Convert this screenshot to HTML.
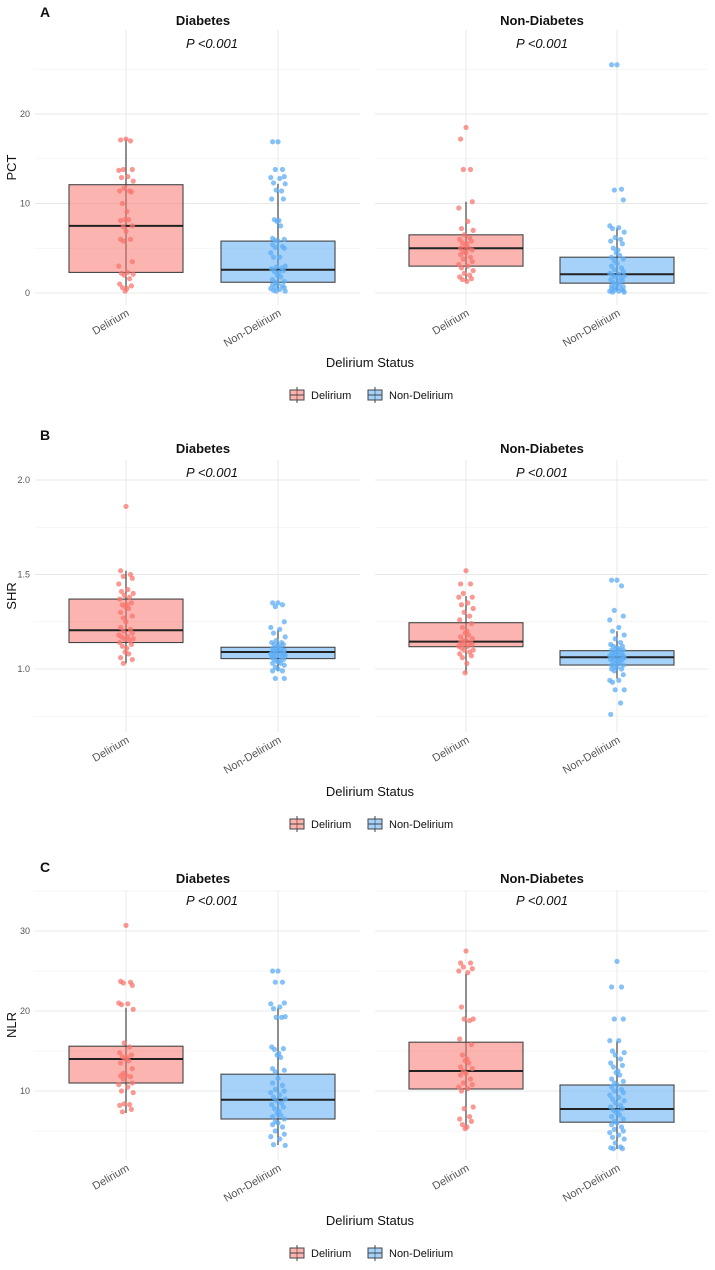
<!DOCTYPE html>
<html><head><meta charset="utf-8">
<style>
html,body{margin:0;padding:0;background:#fff;}
svg{display:block;font-family:"Liberation Sans",sans-serif;}
</style></head>
<body>
<svg id="chart" width="715" height="1270" viewBox="0 0 715 1270" xmlns="http://www.w3.org/2000/svg"></svg>
<script>
// ---------- data ----------
const categories = ["Delirium","Non-Delirium"];
const facets = ["Diabetes","Non-Diabetes"];
const panelLetters = ["A","B","C"];
const yTitles = ["PCT","SHR","NLR"];
const pLabels = ["P <0.001","P <0.001"];
const tickLabelsA = ["0","10","20"];
const tickLabelsB = ["1.0","1.5","2.0"];
const tickLabelsC = ["10","20","30"];
const ticksA = [0,10,20];
const ticksB = [1.0,1.5,2.0];
const ticksC = [10,20,30];
const minorA = [5,15,25];
const minorB = [0.75,1.25,1.75];
const minorC = [5,15,25,35];
// box stats: [lowWhisker, q1, median, q3, highWhisker] ; order: Diab-Del, Diab-NonDel, NonDiab-Del, NonDiab-NonDel
const boxA = [[0.2,2.3,7.5,12.1,17.2],[0.2,1.2,2.6,5.8,12.2],[1.3,3.0,5.0,6.5,10.2],[0.2,1.1,2.1,4.0,7.3]];
const boxB = [[1.03,1.14,1.205,1.37,1.52],[0.99,1.055,1.09,1.115,1.21],[0.98,1.118,1.145,1.245,1.386],[0.95,1.021,1.062,1.097,1.20]];
const boxC = [[7.25,11.0,14.0,15.6,20.4],[3.25,6.5,8.9,12.1,20.4],[5.4,10.25,12.5,16.1,24.7],[2.75,6.1,7.75,10.75,16.25]];
// points
const ptsA_DD = [17.2,17.1,17.0,13.8,13.8,13.7,13.0,12.9,12.5,11.7,11.4,11.4,11.3,10.0,9.1,8.2,8.2,8.1,7.5,7.4,6.9,6.0,6.0,5.8,3.5,3.0,2.3,2.2,2.1,2.0,1.6,1.0,0.8,0.6,0.5,0.2];
const ptsA_DN = [16.9,16.9,13.8,13.8,13.0,12.9,12.8,12.3,12.2,11.5,11.4,10.5,10.5,8.2,8.1,8.0,7.5,6.1,6.0,5.9,5.8,5.4,5.2,5.1,5.0,4.5,4.0,4.0,3.0,2.9,2.8,2.7,2.5,2.4,2.3,2.0,1.8,1.5,1.3,1.2,1.0,0.9,0.8,0.7,0.6,0.5,0.4,0.3,0.2,0.2];
const ptsA_ND = [18.5,17.2,13.8,13.8,10.2,9.5,8.0,7.2,7.0,6.5,6.2,6.0,5.8,5.6,5.5,5.2,5.0,5.0,4.8,4.6,4.5,4.3,4.0,3.8,3.5,3.2,3.0,2.8,2.5,2.2,2.0,1.8,1.6,1.5,1.3];
const ptsA_NN = [25.5,25.5,11.6,11.5,10.4,7.5,7.3,7.2,6.8,6.2,6.0,5.8,5.5,5.0,4.8,4.5,4.2,4.0,3.8,3.6,3.3,3.0,2.8,2.6,2.4,2.2,2.1,2.0,1.9,1.8,1.6,1.5,1.4,1.2,1.1,1.0,0.9,0.8,0.7,0.6,0.5,0.5,0.4,0.3,0.3,0.2,0.2,0.1,0.1];
const ptsB_DD = [1.86,1.52,1.50,1.49,1.48,1.45,1.42,1.41,1.40,1.39,1.38,1.37,1.35,1.34,1.34,1.33,1.32,1.30,1.28,1.27,1.25,1.22,1.21,1.20,1.19,1.18,1.17,1.17,1.16,1.16,1.15,1.14,1.13,1.12,1.11,1.09,1.08,1.06,1.05,1.03];
const ptsB_DN = [1.35,1.35,1.34,1.33,1.25,1.22,1.21,1.19,1.17,1.15,1.14,1.14,1.13,1.13,1.12,1.12,1.11,1.11,1.10,1.10,1.10,1.09,1.09,1.09,1.08,1.08,1.08,1.07,1.07,1.07,1.06,1.06,1.05,1.05,1.04,1.04,1.03,1.03,1.02,1.01,1.00,0.99,0.99,0.95,0.95];
const ptsB_ND = [1.52,1.45,1.45,1.40,1.38,1.38,1.35,1.34,1.32,1.30,1.28,1.26,1.24,1.22,1.20,1.19,1.18,1.17,1.16,1.15,1.15,1.14,1.14,1.13,1.13,1.12,1.12,1.11,1.10,1.10,1.09,1.08,1.07,1.06,1.03,0.98];
const ptsB_NN = [1.47,1.47,1.44,1.31,1.28,1.26,1.22,1.20,1.18,1.16,1.14,1.13,1.12,1.12,1.11,1.11,1.10,1.10,1.10,1.09,1.09,1.08,1.08,1.08,1.07,1.07,1.07,1.06,1.06,1.06,1.05,1.05,1.05,1.04,1.04,1.03,1.03,1.02,1.02,1.01,1.01,1.00,1.00,0.99,0.97,0.94,0.94,0.93,0.89,0.89,0.82,0.76];
const ptsC_DD = [30.7,23.7,23.6,23.5,23.2,21.0,20.9,20.8,20.2,16.0,15.5,14.8,14.5,14.3,14.2,14.0,13.8,13.5,12.8,12.2,12.0,11.9,11.8,11.5,11.0,10.8,10.5,10.0,9.8,8.4,8.3,8.2,7.7,7.4];
const ptsC_DN = [25.0,25.0,23.6,23.6,21.0,20.9,20.5,20.3,19.3,19.2,19.2,15.5,15.3,15.2,14.7,14.5,14.2,12.8,12.6,12.4,11.6,11.0,10.7,10.2,10.0,9.8,9.5,9.2,9.0,8.8,8.5,8.3,8.0,7.8,7.5,7.2,7.0,6.8,6.5,6.2,6.0,5.8,5.5,5.0,4.6,4.3,4.0,3.3,3.2];
const ptsC_ND = [27.5,26.0,26.0,25.5,25.3,25.0,24.8,20.5,19.0,19.0,18.8,16.5,15.8,14.5,14.0,13.8,13.5,13.0,12.8,12.5,12.2,12.0,11.5,11.0,10.8,10.5,10.3,10.0,8.0,7.8,6.8,6.5,6.2,5.8,5.5,5.3];
const ptsC_NN = [26.2,23.0,23.0,19.0,19.0,16.3,16.3,15.0,14.8,14.5,14.0,13.5,13.2,13.0,12.5,12.3,12.0,11.5,11.2,11.0,10.8,10.5,10.2,10.0,9.8,9.5,9.2,9.0,8.8,8.5,8.2,8.0,7.8,7.6,7.5,7.3,7.0,6.8,6.5,6.2,6.0,5.8,5.5,5.2,5.0,4.8,4.5,4.2,4.0,3.5,3.0,2.9,2.8,2.8];

// ---------- layout ----------
const NS = "http://www.w3.org/2000/svg";
const svg = document.getElementById("chart");
function el(tag, attrs, parent){ const e=document.createElementNS(NS,tag); for(const k in attrs) e.setAttribute(k,attrs[k]); (parent||svg).appendChild(e); return e; }
const facetX = [[35,360],[375,708]];
const catX = [[126,278],[466,617]];
const titleX = [203,542];
const pX = [212,542];
const fills = ["#F8766D","#5DADF5"];
const panels = [
  {y0:0,  ref:0,  refPx:293,  ppu:8.95, top:30,  bot:305,  ticks:ticksA, tl:tickLabelsA, minor:minorA, box:boxA, pts:[ptsA_DD,ptsA_DN,ptsA_ND,ptsA_NN], lab:12, ft:20, pt:43, xt:362, lg:395},
  {y0:400,ref:1.0,refPx:669,  ppu:189,  top:460, bot:732,  ticks:ticksB, tl:tickLabelsB, minor:minorB, box:boxB, pts:[ptsB_DD,ptsB_DN,ptsB_ND,ptsB_NN], lab:435, ft:448, pt:472, xt:791, lg:824},
  {y0:830,ref:10, refPx:1091, ppu:8,    top:890, bot:1160, ticks:ticksC, tl:tickLabelsC, minor:minorC, box:boxC, pts:[ptsC_DD,ptsC_DN,ptsC_ND,ptsC_NN], lab:867, ft:878, pt:900, xt:1220, lg:1253}
];
const jit = [0,-6,5,-3,7,-8,2,-5,8,-2,4,-7,6,-4,1,-1,3,-6,7,-3];

panels.forEach((P,pi)=>{
  const g = el("g",{});
  
  
  const yS = v => P.refPx - (v-P.ref)*P.ppu;
  const inRange = v => yS(v) >= P.top-2 && yS(v) <= P.bot;
  const lt = el("text",{x:40,y:P.lab+5,"font-size":14,"font-weight":"bold",fill:"#111"},g); lt.textContent=panelLetters[pi];
  
  
  const yt = el("text",{x:0,y:0,"font-size":13,fill:"#111","text-anchor":"middle",transform:`translate(16,${(P.top+P.bot)/2}) rotate(-90)`},g); yt.textContent=yTitles[pi];
  
  
  P.ticks.forEach((t,i)=>{
    const tx = el("text",{x:30,y:yS(t)+3,"font-size":9,fill:"#555","text-anchor":"end"},g); tx.textContent=P.tl[i];
    
    
  });
  facets.forEach((f,fi)=>{
    const [x1,x2] = facetX[fi];
    P.minor.forEach(m=>{ if(inRange(m)){ const l=el("line",{x1,x2,y1:yS(m),y2:yS(m),stroke:"#f2f2f2","stroke-width":0.8},g);
        }});
    P.ticks.forEach(t=>{ const l=el("line",{x1,x2,y1:yS(t),y2:yS(t),stroke:"#e8e8e8","stroke-width":1},g);
        });
    catX[fi].forEach(cx=>{ const l=el("line",{x1:cx,x2:cx,y1:P.top,y2:P.bot,stroke:"#e8e8e8","stroke-width":1},g);
        });
    const ft = el("text",{x:titleX[fi],y:P.ft+5,"font-size":13,"font-weight":"bold",fill:"#111","text-anchor":"middle"},g); ft.textContent=f;
    
    
    const pt = el("text",{x:pX[fi],y:P.pt+5,"font-size":13,"font-style":"italic",fill:"#111","text-anchor":"middle"},g); pt.textContent=pLabels[fi];
    
    
    catX[fi].forEach((cx,ci)=>{
      const b = P.box[fi*2+ci];
      const wl = el("line",{x1:cx,x2:cx,y1:yS(b[4]),y2:yS(b[0]),stroke:"#333","stroke-width":1.1},g);
      
      
      const r = el("rect",{x:cx-57,y:yS(b[3]),width:114,height:yS(b[1])-yS(b[3]),fill:fills[ci],"fill-opacity":0.55,stroke:"#444","stroke-width":1.1},g);
      
      
      const md = el("line",{x1:cx-57,x2:cx+57,y1:yS(b[2]),y2:yS(b[2]),stroke:"#222","stroke-width":2},g);
      
      
      P.pts[fi*2+ci].forEach((v,k)=>{
        const c = el("circle",{cx:cx+jit[k%jit.length]*0.9,cy:yS(v),r:2.6,fill:fills[ci],"fill-opacity":0.75},g);
        
        
      });
      const xl = el("text",{x:0,y:0,"font-size":11,fill:"#555","text-anchor":"end",transform:`translate(${cx+4},${P.bot+10}) rotate(-30)`},g); xl.textContent=categories[ci];
      
      
    });
  });
  const xt = el("text",{x:370,y:P.xt+5,"font-size":13,fill:"#111","text-anchor":"middle"},g); xt.textContent="Delirium Status";
  
  
  const lgX = [290,368];
  categories.forEach((c,ci)=>{
    const lg = el("g",{},g);
    
    
    const x = lgX[ci], y = P.lg;
    el("line",{x1:x+7,x2:x+7,y1:y-8,y2:y+8,stroke:"#444","stroke-width":1},lg);
    el("rect",{x:x,y:y-5,width:14,height:10,fill:fills[ci],"fill-opacity":0.55,stroke:"#444","stroke-width":1},lg);
    el("line",{x1:x,x2:x+14,y1:y,y2:y,stroke:"#444","stroke-width":1},lg);
    const t = el("text",{x:x+21,y:y+4,"font-size":11,fill:"#111"},lg); t.textContent=c;
  });
});
</script>
</body></html>
